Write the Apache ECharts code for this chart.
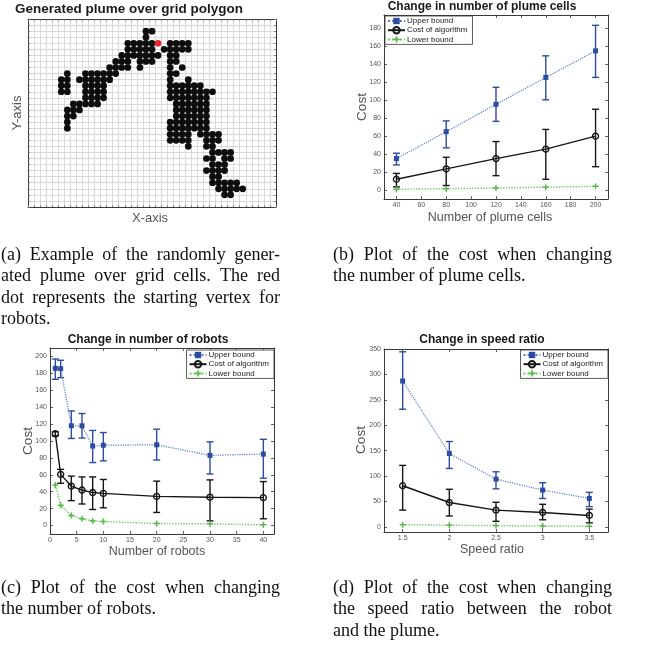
<!DOCTYPE html>
<html><head><meta charset="utf-8">
<script src="https://cdn.jsdelivr.net/npm/echarts@6/dist/echarts.min.js"></script>
<style>html,body{margin:0;padding:0;background:#fff}#c{width:649px;height:646px}</style>
</head><body><div id="c"></div>
<script>
// ---------- (a) plume grid ----------
const plumeRowIndex = [29, 28, 27, 26, 25, 24, 23, 22, 21, 20, 19, 18, 17, 16, 15, 14, 13, 12, 11, 10, 9, 8, 7, 6, 5, 4, 3, 2];
const plumeRowCols = [
  [19, 20],
  [19],
  [16, 17, 18, 19, 20, 23, 24, 25, 26],
  [16, 17, 18, 19, 20, 22, 23, 24, 25, 26],
  [15, 16, 17, 18, 19, 20, 21, 23, 24],
  [14, 15, 16, 18, 19, 20, 23, 24],
  [13, 14, 15, 16, 18, 23, 25],
  [6, 9, 10, 11, 12, 13, 14, 23, 24],
  [5, 6, 8, 9, 10, 11, 12, 13, 23, 26],
  [5, 6, 9, 10, 11, 12, 23, 24, 25, 26, 27, 28],
  [5, 6, 9, 10, 11, 12, 23, 24, 25, 26, 27, 28, 29, 30],
  [9, 10, 11, 12, 23, 24, 25, 26, 27, 28, 29],
  [7, 8, 9, 10, 11, 24, 25, 26, 27, 28, 29],
  [6, 7, 8, 24, 25, 26, 27, 28, 29],
  [6, 7, 24, 25, 26, 27, 28, 29],
  [6, 23, 24, 25, 26, 27, 28, 29],
  [6, 23, 24, 25, 26, 27, 28, 29],
  [23, 24, 25, 26, 28, 29, 30, 31],
  [23, 24, 25, 26, 29, 30, 31],
  [26, 29, 30],
  [30, 31, 32, 33],
  [29, 30, 32, 33],
  [30, 31, 32],
  [29, 30, 31, 32],
  [30, 31],
  [30, 31, 32, 33, 34],
  [31, 32, 33, 34, 35],
  [32, 33]
];
const startVertex = [21, 27];

// ---------- (b) number of plume cells ----------
const cellsX = [40, 80, 120, 160, 200];
const cellsUpper = [35, 65, 95.5, 125.5, 155];
const cellsUpperLo = [28, 47, 76.5, 100.5, 125.5];
const cellsUpperHi = [41, 77, 114.5, 149.5, 183.5];
const cellsCost = [12, 23.5, 35, 45.5, 60];
const cellsCostLo = [3.5, 5, 16, 12, 26];
const cellsCostHi = [18.5, 36.5, 54, 67.5, 90];
const cellsLower = [0.8, 1.5, 2.2, 3.2, 4.1];
const cellsTicksX = [40, 60, 80, 100, 120, 140, 160, 180, 200];
const cellsTicksY = [0, 20, 40, 60, 80, 100, 120, 140, 160, 180];

// ---------- (c) number of robots ----------
const robotsX = [1, 2, 4, 6, 8, 10, 20, 30, 40];
const robotsUpper = [186, 185.5, 118, 118, 94, 95, 95.5, 83, 84.5];
const robotsUpperLo = [173, 175, 103, 103.5, 74.5, 76.5, 77.5, 61, 56];
const robotsUpperHi = [197, 195.5, 135.5, 132.5, 112.5, 110, 114, 99, 102];
const robotsCost = [108.5, 60.5, 46.5, 42, 39, 38, 34.5, 33.5, 33];
const robotsCostLo = [106, 50, 29.5, 25.5, 19, 21, 15.5, 5.5, 8];
const robotsCostHi = [111, 66.5, 58.5, 57.5, 57.5, 54.5, 52.5, 54, 52];
const robotsLower = [48, 24, 12, 8, 5.5, 4.7, 2.4, 2, 0.8];
const robotsTicksX = [0, 5, 10, 15, 20, 25, 30, 35, 40];
const robotsTicksY = [0, 20, 40, 60, 80, 100, 120, 140, 160, 180, 200];

// ---------- (d) speed ratio ----------
const speedX = [1.5, 2, 2.5, 3, 3.5];
const speedUpper = [287, 144.5, 94, 72.5, 56];
const speedUpperLo = [231.5, 115, 75, 56, 40];
const speedUpperHi = [344.5, 168, 108.5, 87, 68];
const speedCost = [81, 48, 33, 28.5, 22.5];
const speedCostLo = [33, 21.5, 11, 14, 8];
const speedCostHi = [121, 74, 48.5, 44.5, 35];
const speedLower = [4.5, 3.3, 2.6, 2, 1.3];
const speedTicksX = [1.5, 2, 2.5, 3, 3.5];
const speedTicksY = [0, 50, 100, 150, 200, 250, 300, 350];

const legendNames = ['Upper bound', 'Cost of algorithm', 'Lower bound'];

const captionA = ['(a) Example of the randomly gener-', 'ated plume over grid cells. The red', 'dot represents the starting vertex for', 'robots.'];
const captionB = ['(b) Plot of the cost when changing', 'the number of plume cells.'];
const captionC = ['(c) Plot of the cost when changing', 'the number of robots.'];
const captionD = ['(d) Plot of the cost when changing', 'the speed ratio between the robot', 'and the plume.'];

// ---------- layout / styles ----------
const FONT = 'Liberation Sans';
const AX = '#3a3a3a';
const BLUE = '#2c4ba3', BLUE_L = '#5a78c8';
const BLACK = '#161616';
const GREEN = '#57b947', GREEN_L = '#73c865';
const PLUS = 'path://M3,0H5V3H8V5H5V8H3V5H0V3H3Z';

const grids = [
  {left: 28, top: 19, width: 248, height: 188},
  {left: 384, top: 15, width: 224, height: 184},
  {left: 50, top: 348, width: 224, height: 186},
  {left: 384, top: 349, width: 224, height: 183}
];

const xAxes = [], yAxes = [];
function addBox(gi, xr, yr, xt, yt, plume) {
  const line = {show: true, onZero: false, lineStyle: {color: AX, width: 1}};
  const tick = (vals) => plume
    ? {show: true, inside: true, length: 2, lineStyle: {color: '#777', width: 0.8}}
    : {show: true, inside: true, length: 3, customValues: vals, lineStyle: {color: AX, width: 0.8}};
  const lab = (vals) => plume ? {show: false}
    : {show: true, customValues: vals, fontSize: 7, color: '#555', fontFamily: FONT, margin: 3};
  const base = plume ? {interval: 1} : {};
  const split = {show: !!plume, lineStyle: {color: '#d8d8d8', width: 1}};
  xAxes.push(Object.assign({type: 'value', gridIndex: gi, min: xr[0], max: xr[1], position: 'bottom',
    axisLine: line, axisTick: tick(xt), axisLabel: lab(xt), splitLine: split}, base));
  xAxes.push(Object.assign({type: 'value', gridIndex: gi, min: xr[0], max: xr[1], position: 'top',
    axisLine: line, axisTick: tick(xt), axisLabel: {show: false}, splitLine: {show: false}}, base));
  yAxes.push(Object.assign({type: 'value', gridIndex: gi, min: yr[0], max: yr[1], position: 'left',
    axisLine: line, axisTick: tick(yt), axisLabel: lab(yt), splitLine: split}, base));
  yAxes.push(Object.assign({type: 'value', gridIndex: gi, min: yr[0], max: yr[1], position: 'right',
    axisLine: line, axisTick: tick(yt), axisLabel: {show: false}, splitLine: {show: false}}, base));
}
addBox(0, [-0.5, 40.5], [0, 31], null, null, true);
addBox(1, [30, 210], [-10, 195], cellsTicksX, cellsTicksY, false);
addBox(2, [0, 42], [-10, 210], robotsTicksX, robotsTicksY, false);
addBox(3, [1.3, 3.7], [-10, 350], speedTicksX, speedTicksY, false);

const series = [];
const plumePts = [];
plumeRowIndex.forEach((r, i) => plumeRowCols[i].forEach(c => plumePts.push([c, r])));
series.push({type: 'scatter', xAxisIndex: 0, yAxisIndex: 0, data: plumePts, symbolSize: 6.7,
  itemStyle: {color: '#0d0d0d', opacity: 1}, z: 3, silent: true});
series.push({type: 'scatter', xAxisIndex: 0, yAxisIndex: 0, data: [startVertex], symbolSize: 6.7,
  itemStyle: {color: '#e8232a', opacity: 1}, z: 4, silent: true});

function errSeries(gi, xs, lo, hi, color, cap) {
  return {type: 'custom', xAxisIndex: gi * 2, yAxisIndex: gi * 2, z: 3, silent: true,
    data: xs.map((x, i) => [x, lo[i], hi[i]]),
    encode: {x: 0, y: [1, 2]},
    renderItem(params, api) {
      const x = api.value(0);
      const a = api.coord([x, api.value(1)]);
      const b = api.coord([x, api.value(2)]);
      const st = {stroke: color, lineWidth: 1.4};
      return {type: 'group', children: [
        {type: 'line', shape: {x1: a[0], y1: a[1], x2: b[0], y2: b[1]}, style: st},
        {type: 'line', shape: {x1: a[0] - cap, y1: a[1], x2: a[0] + cap, y2: a[1]}, style: st},
        {type: 'line', shape: {x1: b[0] - cap, y1: b[1], x2: b[0] + cap, y2: b[1]}, style: st}
      ]};
    }};
}
function lineSet(gi, xs, up, upLo, upHi, cost, cLo, cHi, low) {
  const xi = gi * 2, yi = gi * 2;
  series.push(errSeries(gi, xs, upLo, upHi, BLUE, 3.5));
  series.push(errSeries(gi, xs, cLo, cHi, BLACK, 3.5));
  series.push({type: 'line', name: 'Upper bound', xAxisIndex: xi, yAxisIndex: yi, z: 4,
    data: xs.map((x, i) => [x, up[i]]), symbol: 'rect', symbolSize: 5,
    lineStyle: {type: 'dotted', width: 1.2, color: BLUE_L}, itemStyle: {color: BLUE}});
  series.push({type: 'line', name: 'Cost of algorithm', xAxisIndex: xi, yAxisIndex: yi, z: 4,
    data: xs.map((x, i) => [x, cost[i]]), symbol: 'circle', symbolSize: 6,
    lineStyle: {type: 'solid', width: 1.4, color: BLACK},
    itemStyle: {color: 'rgba(255,255,255,0)', borderColor: BLACK, borderWidth: 1.4}});
  series.push({type: 'line', name: 'Lower bound', xAxisIndex: xi, yAxisIndex: yi, z: 4,
    data: xs.map((x, i) => [x, low[i]]), symbol: PLUS, symbolSize: 6,
    lineStyle: {type: 'dotted', width: 1.4, color: GREEN_L}, itemStyle: {color: GREEN}});
}
lineSet(1, cellsX, cellsUpper, cellsUpperLo, cellsUpperHi, cellsCost, cellsCostLo, cellsCostHi, cellsLower);
lineSet(2, robotsX, robotsUpper, robotsUpperLo, robotsUpperHi, robotsCost, robotsCostLo, robotsCostHi, robotsLower);
lineSet(3, speedX, speedUpper, speedUpperLo, speedUpperHi, speedCost, speedCostLo, speedCostHi, speedLower);

const legendCommon = {orient: 'vertical', backgroundColor: '#fff', borderColor: '#333', borderWidth: 0.8,
  borderRadius: 0, padding: [1, 5, 1, 2], itemGap: 1, itemWidth: 17, itemHeight: 8, selectedMode: false,
  textStyle: {fontSize: 8, color: '#222', fontFamily: FONT, padding: [0, 0, 0, -3]}, data: legendNames};
const legends = [
  Object.assign({left: 385, top: 16}, legendCommon),
  Object.assign({right: 375, top: 350}, legendCommon),
  Object.assign({right: 41, top: 350}, legendCommon)
];

// ---------- texts ----------
const graphics = [];
function txt(x, y, text, size, opts) {
  opts = opts || {};
  graphics.push({type: 'text', x, y, rotation: opts.rot || 0, silent: true, z: 10,
    style: {text, fill: opts.color || '#111', textAlign: opts.align || 'center', textVerticalAlign: 'middle',
      font: (opts.bold ? 'bold ' : '') + size + 'px "' + (opts.family || FONT) + '"'}});
}
txt(15, 9, 'Generated plume over grid polygon', 13.5, {bold: true, align: 'left', color: '#1a1a1a'});
txt(150, 218, 'X-axis', 13, {color: '#555'});
txt(17, 113, 'Y-axis', 13, {color: '#555', rot: Math.PI / 2});

txt(482, 6.5, 'Change in number of plume cells', 12, {bold: true, color: '#1a1a1a'});
txt(362, 107, 'Cost', 13.5, {color: '#555', rot: Math.PI / 2});
txt(490, 218, 'Number of plume cells', 12.5, {color: '#555'});

txt(148, 340, 'Change in number of robots', 12, {bold: true, color: '#1a1a1a'});
txt(28, 441, 'Cost', 13.5, {color: '#555', rot: Math.PI / 2});
txt(157, 552, 'Number of robots', 12.5, {color: '#555'});

txt(482, 340, 'Change in speed ratio', 12, {bold: true, color: '#1a1a1a'});
txt(361, 440, 'Cost', 13.5, {color: '#555', rot: Math.PI / 2});
txt(492, 550, 'Speed ratio', 12.5, {color: '#555'});

const mctx = document.createElement('canvas').getContext('2d');
function caption(lines, x0, y0, width, pitch, size) {
  const font = size + 'px "Liberation Serif"';
  mctx.font = font;
  lines.forEach((line, li) => {
    const y = y0 + li * pitch;
    const words = line.split(' ');
    const push = (x, t) => graphics.push({type: 'text', x, y, silent: true, z: 10,
      style: {text: t, font, fill: '#111', textAlign: 'left', textVerticalAlign: 'middle'}});
    if (li === lines.length - 1 || words.length < 2) { push(x0, line); return; }
    const ws = words.map(w => mctx.measureText(w).width);
    const gap = (width - ws.reduce((a, b) => a + b, 0)) / (words.length - 1);
    let cx = x0;
    words.forEach((w, i) => { push(cx, w); cx += ws[i] + gap; });
  });
}
const CAP = 18, PITCH = 21.5, CW = 279;
caption(captionA, 1, 255, CW, PITCH, CAP);
caption(captionB, 333, 255, CW, PITCH, CAP);
caption(captionC, 1, 588, CW, PITCH, CAP);
caption(captionD, 333, 588, CW, PITCH, CAP);

const chart = echarts.init(document.getElementById('c'), null, {renderer: 'canvas'});
chart.setOption({
  animation: false,
  backgroundColor: '#fff',
  grid: grids,
  xAxis: xAxes,
  yAxis: yAxes,
  legend: legends,
  series,
  graphic: graphics
});
</script></body></html>
